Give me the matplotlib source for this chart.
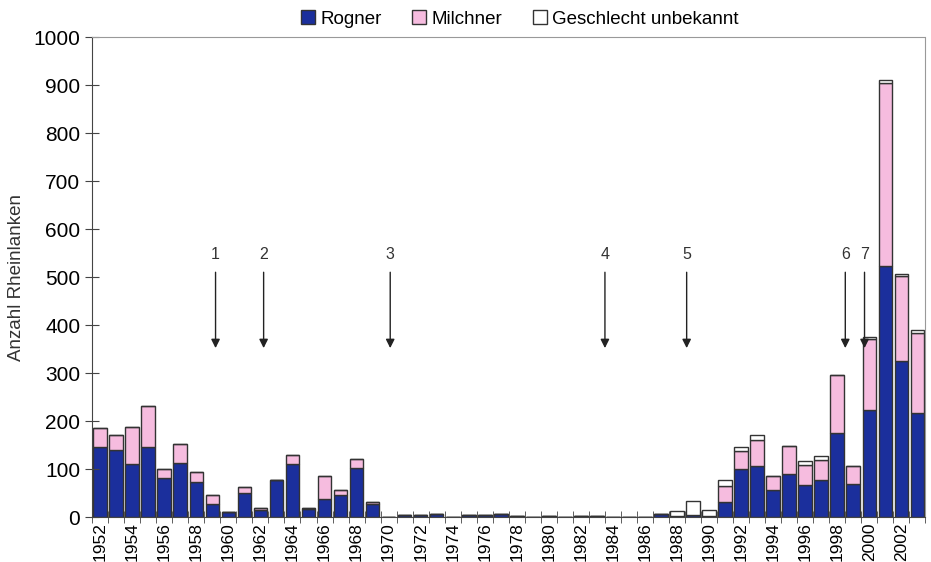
import matplotlib.pyplot as plt
from matplotlib.patches import Patch
import numpy as np

plt.rcParams['font.family'] = ['Liberation Sans', 'DejaVu Sans']

# Daten
jahre = list(range(1952, 2004))
rogner = [145, 140, 111, 146, 82, 113, 72, 28, 10, 50,
          15, 77, 110, 16, 38, 46, 103, 27, 0, 5,
          4, 7, 0, 5, 4, 6, 2, 1, 3, 0,
          2, 3, 1, 0, 1, 6, 2, 5, 2, 31,
          101, 107, 56, 89, 67, 78, 175, 69, 222, 523,
          326, 216]
milchner = [40, 31, 76, 85, 19, 39, 22, 17, 0, 12,
            3, 0, 20, 3, 47, 11, 17, 5, 0, 0,
            0, 0, 0, 0, 0, 0, 0, 0, 0, 0,
            0, 0, 0, 0, 0, 0, 0, 0, 0, 34,
            37, 54, 29, 58, 42, 41, 121, 38, 148, 382,
            176, 168]
unbekannt = [0, 0, 0, 0, 0, 0, 0, 0, 0, 0,
             1, 0, 0, 0, 0, 0, 0, 0, 0, 0,
             0, 0, 0, 0, 0, 0, 0, 0, 0, 0,
             0, 0, 0, 0, 0, 0, 10, 28, 12, 13,
             8, 10, 0, 0, 8, 9, 0, 0, 5, 5,
             4, 6]

# Pfeile (Ereignisse)
pfeil_nr = ['1', '2', '3', '4', '5', '6', '7']
pfeil_x = [1959.2, 1962.2, 1970.1, 1983.5, 1988.6, 1998.5, 1999.7]

c_rogner = '#1b2f9c'
c_milch = '#f6bcdf'
c_edge = '#333333'

fig = plt.figure(figsize=(9.31, 5.62), dpi=100)
ax = fig.add_axes([0.099, 0.080, 0.895, 0.854])

x = np.array(jahre)
r = np.array(rogner)
m = np.array(milchner)
u = np.array(unbekannt)
w = 0.85

ax.bar(x, r, width=w, color=c_rogner, edgecolor=c_edge, linewidth=1)
ax.bar(x, m, width=w, bottom=r, color=c_milch, edgecolor=c_edge, linewidth=1)
ax.bar(x, u, width=w, bottom=r + m, color='white', edgecolor=c_edge, linewidth=1)

# Pfeile und Nummern
for nr, px in zip(pfeil_nr, pfeil_x):
    ax.annotate('', xy=(px, 352), xytext=(px, 510),
                arrowprops=dict(arrowstyle='-|>', color='#222222', lw=1,
                                mutation_scale=13, shrinkA=0, shrinkB=0))
    ax.text(px, 531, nr, ha='center', va='bottom', fontsize=11.5, color='#333333')

ax.set_xlim(1951.5, 2003.5)
ax.set_ylim(0, 1000)
ax.set_yticks(range(0, 1001, 100))
ax.set_xticks(range(1952, 2003, 2))
ax.set_xticklabels([str(j) for j in range(1952, 2003, 2)], rotation=90)
ax.set_xticks(np.arange(1951.5, 2004, 1), minor=True)
ax.tick_params(axis='x', which='major', length=0, labelsize=12.5, pad=4)
ax.tick_params(axis='x', which='minor', direction='inout', length=8, color='#444444')
ax.tick_params(axis='y', direction='inout', length=10, labelsize=15, color='#444444')

ax.set_ylabel('Anzahl Rheinlanken', fontsize=13.5, color='#333333', labelpad=6)

ax.spines['top'].set_linestyle((0, (1, 1)))
ax.spines['top'].set_color('#999999')
ax.spines['right'].set_linestyle((0, (1, 1)))
ax.spines['right'].set_color('#999999')
ax.spines['left'].set_color('#444444')
ax.spines['bottom'].set_color('#444444')

handles = [Patch(facecolor=c_rogner, edgecolor=c_edge),
           Patch(facecolor=c_milch, edgecolor=c_edge),
           Patch(facecolor='white', edgecolor=c_edge)]
fig.legend(handles, ['Rogner', 'Milchner', 'Geschlecht unbekannt'],
           loc='center', bbox_to_anchor=(0.5586, 0.966), ncol=3, frameon=False,
           fontsize=13.5, handlelength=0.75, handleheight=0.75, handletextpad=0.3,
           columnspacing=1.6)

fig.savefig('out.png', dpi=100)
